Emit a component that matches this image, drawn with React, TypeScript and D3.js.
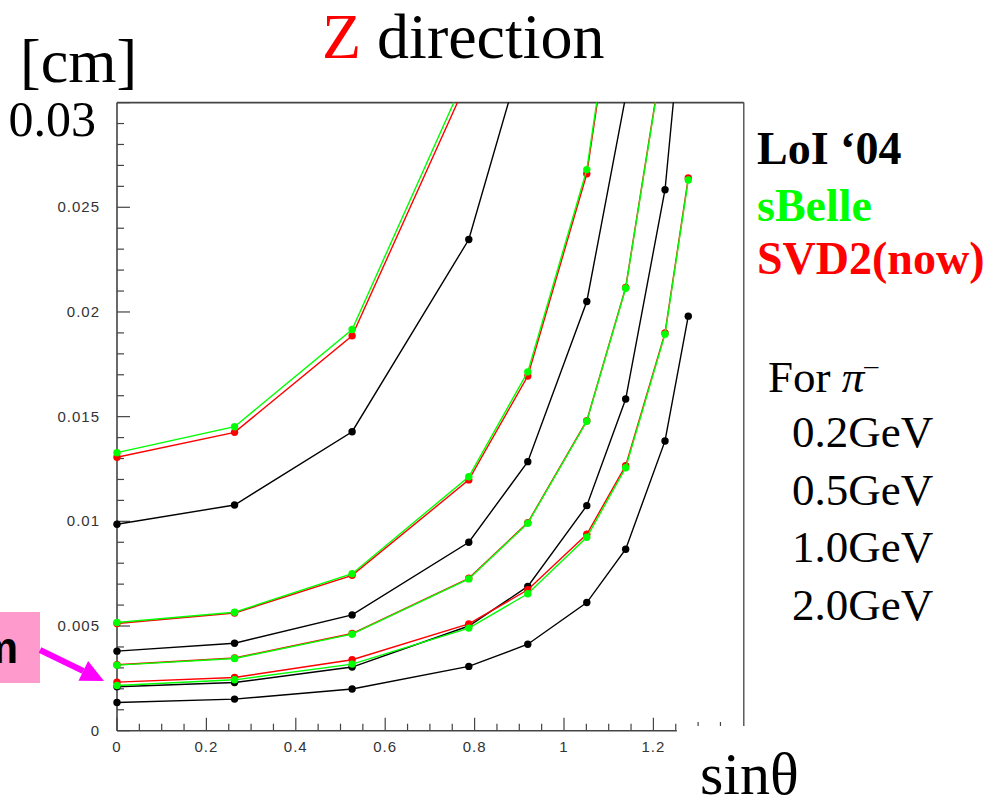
import React from "react";
import * as d3 from "d3";

// sinθ sample positions
const sinTheta = [0, 0.263, 0.526, 0.787, 0.919, 1.051, 1.138, 1.226, 1.278];

// LoI '04 (black)
const loi02 = [0.00986, 0.01078, 0.01428, 0.02346, 0.0332];
const loi05 = [0.0038, 0.00418, 0.00553, 0.009, 0.01285, 0.0205, 0.0303];
const loi10 = [0.0021, 0.0023, 0.00304, 0.005, 0.00689, 0.01075, 0.01584, 0.02584, 0.0375];
const loi20 = [0.00135, 0.00151, 0.00199, 0.00307, 0.00413, 0.00612, 0.00867, 0.01384, 0.0198];

// SVD2 (red)
const svd02 = [0.01306, 0.01425, 0.01886, 0.0312];
const svd05 = [0.00512, 0.00562, 0.00742, 0.01198, 0.01694, 0.0266, 0.0392];
const svd10 = [0.00315, 0.00347, 0.00464, 0.00728, 0.00994, 0.01481, 0.02117, 0.033];
const svd20 = [0.00232, 0.00254, 0.00339, 0.0051, 0.00673, 0.00938, 0.01266, 0.019, 0.0264];

// sBelle (green)
const sbelle02 = [0.01328, 0.01452, 0.01916, 0.0316];
const sbelle05 = [0.00517, 0.00566, 0.0075, 0.01213, 0.01714, 0.0268, 0.0394];
const sbelle10 = [0.00313, 0.00345, 0.00461, 0.00725, 0.00991, 0.01478, 0.02113, 0.0329];
const sbelle20 = [0.00216, 0.00243, 0.00318, 0.0049, 0.00654, 0.00924, 0.01256, 0.01894, 0.0263];

const yTickLabels = ["0", "0.005", "0.01", "0.015", "0.02", "0.025"];
const xTickLabels = ["0", "0.2", "0.4", "0.6", "0.8", "1", "1.2"];
const legendNames = ["LoI \u201804", "sBelle", "SVD2(now)"];
const momenta = ["0.2GeV", "0.5GeV", "1.0GeV", "2.0GeV"];

const BLACK = "#000000";
const RED = "#ff0000";
const GREEN = "#00ff00";

export default function App() {
  const x = d3.scaleLinear().domain([0, 1.4]).range([117, 742.8]);
  const y = d3.scaleLinear().domain([0, 0.03]).range([730.7, 102.6]);
  const line = d3
    .line<[number, number]>()
    .x((d) => x(d[0]))
    .y((d) => y(d[1]));

  const series: { vals: number[]; color: string }[] = [
    { vals: loi02, color: BLACK },
    { vals: loi05, color: BLACK },
    { vals: loi10, color: BLACK },
    { vals: loi20, color: BLACK },
    { vals: svd02, color: RED },
    { vals: svd05, color: RED },
    { vals: svd10, color: RED },
    { vals: svd20, color: RED },
    { vals: sbelle02, color: GREEN },
    { vals: sbelle05, color: GREEN },
    { vals: sbelle10, color: GREEN },
    { vals: sbelle20, color: GREEN },
  ];

  const yMinor = d3.range(0, 31).map((i) => i * 0.001);
  const xMinor = d3.range(0, 26).map((i) => i * 0.05);
  const axisColor = "#444";
  const tickFont = {
    fontFamily: "'Liberation Sans', Arial, sans-serif",
    fontSize: 15,
    letterSpacing: 1,
    fill: "#333",
  } as const;
  const serif = "'Liberation Serif', 'Times New Roman', serif";

  // arrow geometry
  const tail: [number, number] = [40, 650];
  const tip: [number, number] = [104, 681];
  const dx = tip[0] - tail[0];
  const dy = tip[1] - tail[1];
  const len = Math.hypot(dx, dy);
  const ux = dx / len;
  const uy = dy / len;
  const hl = 23;
  const hw = 11;
  const bx = tip[0] - ux * hl;
  const by = tip[1] - uy * hl;
  const head = `${tip[0]},${tip[1]} ${bx - uy * hw},${by + ux * hw} ${bx + uy * hw},${by - ux * hw}`;

  return (
    <svg
      width={992}
      height={807}
      style={{ position: "absolute", left: 0, top: 0, background: "#fff" }}
    >
      <rect x={0} y={0} width={992} height={807} fill="#fff" />
      <defs>
        <clipPath id="plotclip">
          <rect x={100} y={y(0.03)} width={660} height={650} />
        </clipPath>
      </defs>

      {/* frame */}
      <line x1={x(0)} y1={y(0.03)} x2={x(1.4) + 1} y2={y(0.03)} stroke={axisColor} strokeWidth={1.6} />
      <line x1={x(1.4) + 1} y1={y(0.03)} x2={x(1.4) + 1} y2={726} stroke={axisColor} strokeWidth={1.3} />
      <line x1={x(0)} y1={y(0)} x2={x(1.25) + 1} y2={y(0)} stroke={axisColor} strokeWidth={1.6} />
      <line x1={x(0)} y1={y(0.03)} x2={x(0)} y2={y(0)} stroke={axisColor} strokeWidth={1.6} />

      {/* y ticks */}
      {yMinor.map((v, i) => (
        <line
          key={"yt" + i}
          x1={x(0)}
          x2={x(0) + (i % 5 === 0 ? 13 : 7)}
          y1={y(v)}
          y2={y(v)}
          stroke={axisColor}
          strokeWidth={1.2}
        />
      ))}
      {yTickLabels.map((t, i) => (
        <text key={"yl" + i} x={100} y={y(i * 0.005) + 5} textAnchor="end" {...tickFont}>
          {t}
        </text>
      ))}

      {/* x ticks */}
      {xMinor.map((v, i) => (
        <line
          key={"xt" + i}
          x1={x(v)}
          x2={x(v)}
          y1={y(0)}
          y2={y(0) - (i % 4 === 0 ? 13 : 7)}
          stroke={axisColor}
          strokeWidth={1.2}
        />
      ))}
      {[1.3, 1.35].map((v) => (
        <line key={"xs" + v} x1={x(v)} x2={x(v)} y1={722} y2={726} stroke={axisColor} strokeWidth={1.2} />
      ))}
      {xTickLabels.map((t, i) => (
        <text key={"xl" + i} x={x(i * 0.2)} y={752} textAnchor="middle" {...tickFont}>
          {t}
        </text>
      ))}

      {/* data */}
      <g clipPath="url(#plotclip)">
        {series.map((s, si) => {
          const pts: [number, number][] = s.vals.map((v, i) => [sinTheta[i], v]);
          return (
            <g key={"s" + si}>
              <path d={line(pts) || ""} fill="none" stroke={s.color} strokeWidth={1.4} />
              {pts.map((p, pi) => (
                <circle key={pi} cx={x(p[0])} cy={y(p[1])} r={3.7} fill={s.color} />
              ))}
            </g>
          );
        })}
      </g>

      {/* titles */}
      <text x={20} y={82} fontFamily={serif} fontSize={62} fill="#000">
        [cm]
      </text>
      <text x={322} y={58} fontFamily={serif} fontSize={64} fill="#000">
        <tspan fill={RED}>Z</tspan> direction
      </text>
      <text x={96} y={136} fontFamily={serif} fontSize={50} textAnchor="end" fill="#000">
        0.03
      </text>
      <text x={700} y={794} fontFamily={serif} fontSize={60} fill="#000">
        sin{"\u03b8"}
      </text>

      {/* legend */}
      <text x={757} y={164} fontFamily={serif} fontSize={46} fontWeight="bold" fill={BLACK}>
        {legendNames[0]}
      </text>
      <text x={757} y={221} fontFamily={serif} fontSize={46} fontWeight="bold" fill={GREEN}>
        {legendNames[1]}
      </text>
      <text x={757} y={274} fontFamily={serif} fontSize={46} fontWeight="bold" fill={RED}>
        {legendNames[2]}
      </text>
      <text x={768} y={392} fontFamily={serif} fontSize={45} fill="#000">
        For <tspan fontStyle="italic">{"\u03c0"}</tspan>
        <tspan fontSize={28} dy={-18}>
          {"\u2013"}
        </tspan>
      </text>
      {momenta.map((m, i) => (
        <text key={"m" + i} x={792} y={447 + i * 57.7} fontFamily={serif} fontSize={45} fill="#000">
          {m}
        </text>
      ))}

      {/* annotation box and arrow */}
      <rect x={0} y={612} width={40} height={71} fill="#ff9acd" />
      <text
        x={18}
        y={663}
        textAnchor="end"
        fontFamily="'Liberation Sans', Arial, sans-serif"
        fontWeight="bold"
        fontSize={44}
        fill="#000"
      >
        m
      </text>
      <line x1={tail[0]} y1={tail[1]} x2={bx} y2={by} stroke="#ff00ff" strokeWidth={6} />
      <polygon points={head} fill="#ff00ff" />
    </svg>
  );
}
